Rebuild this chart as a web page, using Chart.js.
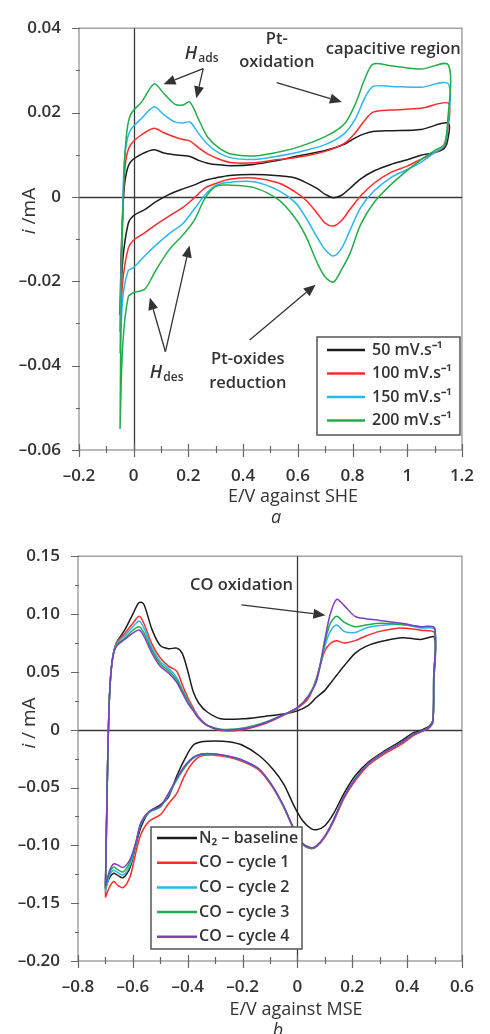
<!DOCTYPE html>
<html>
<head>
<meta charset="utf-8">
<script src="https://cdn.jsdelivr.net/npm/chart.js@4.4.1/dist/chart.umd.min.js"></script>
<style>
  body { margin: 0; background: #fff; }
  #wrap { position: relative; width: 490px; height: 1034px; overflow: hidden; }
  canvas { position: absolute; left: 0; }
  #chart-a { top: 0; }
  #chart-b { top: 528px; }
</style>
</head>
<body>
<div id="wrap">
  <canvas id="chart-a" width="490" height="528"></canvas>
  <canvas id="chart-b" width="490" height="506"></canvas>
</div>
<script>
// panel a: potential (V vs SHE) of the anodic and cathodic sweeps
const potentialFwdA = [-0.05, -0.045, -0.035, -0.025, -0.01, 0.03, 0.075, 0.11, 0.15, 0.18, 0.205, 0.24, 0.27, 0.31, 0.36, 0.44, 0.52, 0.6, 0.7, 0.77, 0.81, 0.845, 0.875, 0.94, 1.05, 1.15];
const potentialRevA = [1.148, 1.135, 1.1, 1.05, 1.0, 0.94, 0.88, 0.83, 0.79, 0.76, 0.73, 0.7, 0.67, 0.63, 0.59, 0.53, 0.44, 0.35, 0.3, 0.26, 0.22, 0.18, 0.13, 0.08, 0.04, 0.0, -0.02, -0.04, -0.05];

// current (mA) per scan rate
const rate50Fwd = [-0.028, -0.012, 0.002, 0.0062, 0.0084, 0.0102, 0.0112, 0.0104, 0.01, 0.0098, 0.0096, 0.0086, 0.008, 0.0076, 0.0074, 0.0077, 0.0086, 0.0097, 0.011, 0.0125, 0.014, 0.015, 0.0155, 0.0157, 0.016, 0.0175];
const rate50Rev = [0.0135, 0.0115, 0.0105, 0.0099, 0.0088, 0.0077, 0.0062, 0.0043, 0.002, 0.0004, -0.0002, 0.0006, 0.002, 0.0034, 0.0045, 0.005, 0.0053, 0.0051, 0.0045, 0.0039, 0.0028, 0.0019, 0.0006, -0.0012, -0.003, -0.0044, -0.0063, -0.015, -0.028];
const rate100Fwd = [-0.032, -0.015, 0.004, 0.0101, 0.0125, 0.0148, 0.0163, 0.0152, 0.0142, 0.0136, 0.0133, 0.0115, 0.0102, 0.009, 0.0081, 0.0081, 0.0088, 0.0094, 0.0108, 0.0127, 0.0152, 0.0182, 0.0201, 0.0206, 0.021, 0.0222];
const rate100Rev = [0.016, 0.012, 0.0105, 0.0089, 0.0073, 0.0058, 0.0033, 0.0003, -0.003, -0.0056, -0.0069, -0.0062, -0.0038, -0.0008, 0.0012, 0.0033, 0.0045, 0.0042, 0.0032, 0.0021, -0.0003, -0.0025, -0.0045, -0.0066, -0.0085, -0.0102, -0.0122, -0.02, -0.032];
const rate150Fwd = [-0.037, -0.015, 0.008, 0.0132, 0.016, 0.0187, 0.0214, 0.0195, 0.0178, 0.0175, 0.0178, 0.0148, 0.0125, 0.0105, 0.0092, 0.0089, 0.0096, 0.0106, 0.0124, 0.015, 0.0185, 0.0235, 0.0262, 0.0262, 0.026, 0.0268];
const rate150Rev = [0.017, 0.0122, 0.0105, 0.0082, 0.0065, 0.0046, 0.0015, -0.0025, -0.008, -0.0122, -0.014, -0.0125, -0.0095, -0.005, -0.0013, 0.0015, 0.0036, 0.0035, 0.0027, 0.0004, -0.003, -0.0063, -0.0087, -0.0115, -0.014, -0.0167, -0.0175, -0.024, -0.037];
const rate200Fwd = [-0.055, -0.02, 0.006, 0.0155, 0.0197, 0.0226, 0.0268, 0.0245, 0.022, 0.0218, 0.0225, 0.018, 0.0142, 0.0117, 0.0101, 0.0097, 0.0105, 0.0118, 0.0143, 0.0173, 0.022, 0.028, 0.0315, 0.0311, 0.0303, 0.0313];
const rate200Rev = [0.018, 0.0125, 0.011, 0.0088, 0.0063, 0.0029, -0.0012, -0.0065, -0.0135, -0.0172, -0.0202, -0.019, -0.0155, -0.0094, -0.005, -0.0007, 0.0022, 0.0028, 0.0025, -0.0004, -0.0057, -0.009, -0.0125, -0.0175, -0.0219, -0.0227, -0.0237, -0.035, -0.055];

// panel b: potential (V vs MSE)
const potentialFwdB = [-0.7, -0.692, -0.685, -0.675, -0.66, -0.63, -0.6, -0.577, -0.56, -0.53, -0.5, -0.47, -0.44, -0.42, -0.4, -0.38, -0.36, -0.33, -0.28, -0.2, -0.12, -0.05, 0.0, 0.04, 0.07, 0.1, 0.12, 0.143, 0.17, 0.21, 0.25, 0.3, 0.38, 0.45, 0.5];
const potentialRevB = [0.497, 0.494, 0.48, 0.46, 0.44, 0.42, 0.38, 0.32, 0.26, 0.21, 0.17, 0.13, 0.1, 0.07, 0.05, 0.02, -0.01, -0.05, -0.09, -0.14, -0.2, -0.25, -0.3, -0.35, -0.38, -0.41, -0.44, -0.47, -0.5, -0.54, -0.57, -0.59, -0.61, -0.635, -0.655, -0.67, -0.685, -0.7];

const baselineFwd = [-0.137, -0.03, 0.03, 0.06, 0.075, 0.086, 0.10, 0.11, 0.1085, 0.0865, 0.0727, 0.070, 0.0705, 0.066, 0.051, 0.033, 0.0231, 0.0155, 0.0095, 0.0094, 0.0115, 0.0135, 0.0163, 0.021, 0.028, 0.034, 0.040, 0.047, 0.055, 0.066, 0.072, 0.076, 0.0795, 0.078, 0.0796];
const baselineRev = [0.04, 0.008, 0.003, 0.0005, -0.0015, -0.003, -0.0095, -0.018, -0.0278, -0.04, -0.055, -0.0733, -0.083, -0.0865, -0.0855, -0.079, -0.067, -0.047, -0.034, -0.0223, -0.0135, -0.0105, -0.0097, -0.0105, -0.0135, -0.025, -0.040, -0.058, -0.065, -0.071, -0.084, -0.101, -0.119, -0.128, -0.126, -0.1242, -0.128, -0.137];
const cycle1Fwd = [-0.145, -0.03, 0.03, 0.06, 0.075, 0.083, 0.092, 0.098, 0.092, 0.074, 0.062, 0.055, 0.0505, 0.039, 0.028, 0.019, 0.011, 0.004, -0.0008, 0.0, 0.005, 0.0125, 0.0185, 0.027, 0.045, 0.068, 0.0745, 0.0768, 0.075, 0.077, 0.081, 0.085, 0.088, 0.086, 0.0837];
const cycle1Rev = [0.045, 0.007, 0.0015, -0.001, -0.003, -0.0055, -0.0125, -0.0205, -0.0305, -0.0445, -0.0595, -0.0805, -0.093, -0.1012, -0.103, -0.0995, -0.088, -0.067, -0.05, -0.035, -0.0275, -0.0238, -0.022, -0.0225, -0.028, -0.039, -0.055, -0.064, -0.0735, -0.079, -0.09, -0.107, -0.127, -0.1366, -0.1345, -0.1312, -0.136, -0.145];
const cycle2Fwd = [-0.14, -0.03, 0.03, 0.06, 0.074, 0.081, 0.089, 0.094, 0.088, 0.071, 0.059, 0.053, 0.045, 0.035, 0.0255, 0.0175, 0.01, 0.0038, 0.0002, 0.0012, 0.006, 0.013, 0.019, 0.029, 0.043, 0.072, 0.085, 0.0906, 0.085, 0.084, 0.088, 0.09, 0.091, 0.088, 0.0865];
const cycle2Rev = [0.045, 0.007, 0.002, -0.0005, -0.0025, -0.0047, -0.0112, -0.0192, -0.0292, -0.0432, -0.0582, -0.0792, -0.0922, -0.1007, -0.1022, -0.0987, -0.0872, -0.0662, -0.0492, -0.0342, -0.0266, -0.0232, -0.0212, -0.0214, -0.0247, -0.0325, -0.0435, -0.0565, -0.067, -0.0715, -0.081, -0.1, -0.117, -0.1256, -0.1235, -0.1215, -0.126, -0.14];
const cycle3Fwd = [-0.138, -0.03, 0.03, 0.06, 0.073, 0.079, 0.086, 0.089, 0.084, 0.0685, 0.057, 0.051, 0.043, 0.034, 0.025, 0.017, 0.0098, 0.0038, 0.0003, 0.0013, 0.0062, 0.013, 0.019, 0.029, 0.044, 0.075, 0.092, 0.098, 0.093, 0.089, 0.0905, 0.092, 0.091, 0.089, 0.0879];
const cycle3Rev = [0.045, 0.007, 0.002, -0.0005, -0.0025, -0.0045, -0.011, -0.019, -0.029, -0.043, -0.058, -0.079, -0.092, -0.1005, -0.1025, -0.099, -0.0875, -0.0665, -0.049, -0.034, -0.0266, -0.0232, -0.0212, -0.0212, -0.0243, -0.032, -0.043, -0.0555, -0.0665, -0.071, -0.0805, -0.099, -0.114, -0.123, -0.121, -0.1188, -0.124, -0.138];
const cycle4Fwd = [-0.135, -0.03, 0.03, 0.06, 0.072, 0.078, 0.0835, 0.0862, 0.081, 0.066, 0.0548, 0.049, 0.041, 0.032, 0.023, 0.0165, 0.010, 0.004, 0.0, 0.0005, 0.0055, 0.013, 0.019, 0.029, 0.042, 0.078, 0.10, 0.1127, 0.1075, 0.098, 0.096, 0.0945, 0.092, 0.089, 0.0879];
const cycle4Rev = [0.045, 0.007, 0.002, -0.0005, -0.0025, -0.0045, -0.011, -0.019, -0.029, -0.043, -0.058, -0.079, -0.092, -0.1005, -0.102, -0.0985, -0.087, -0.066, -0.049, -0.034, -0.0264, -0.023, -0.021, -0.021, -0.024, -0.031, -0.042, -0.055, -0.066, -0.0705, -0.080, -0.098, -0.112, -0.119, -0.117, -0.116, -0.122, -0.135];

const labelsA = ["50 mV.s⁻¹", "100 mV.s⁻¹", "150 mV.s⁻¹", "200 mV.s⁻¹"];
const labelsB = ["N₂ – baseline", "CO – cycle 1", "CO – cycle 2", "CO – cycle 3", "CO – cycle 4"];

const xTicksA = [-0.2, 0, 0.2, 0.4, 0.6, 0.8, 1, 1.2];
const yTicksA = [-0.06, -0.04, -0.02, 0, 0.02, 0.04];
const xTicksB = [-0.8, -0.6, -0.4, -0.2, 0, 0.2, 0.4, 0.6];
const yTicksB = [-0.2, -0.15, -0.1, -0.05, 0, 0.05, 0.1, 0.15];

const FONT = "'Open Sans', sans-serif";
const INK = "#333";

const tickText = (digits) => (value) => {
  const r = +value.toFixed(3);
  if (r === 0) return "0";
  const s = digits === null ? String(Math.abs(r)) : Math.abs(r).toFixed(digits);
  return (r < 0 ? "–" : "") + s;
};

const curve = (label, color, order, fwdE, fwdI, revE, revI) => ({
  label: label,
  order: order,
  data: fwdE.map((e, k) => ({ x: e, y: fwdI[k] })).concat(revE.map((e, k) => ({ x: e, y: revI[k] }))),
  borderColor: color,
  borderWidth: 1.5,
  pointRadius: 0,
  showLine: true,
  tension: 0.3,
  fill: false
});

const drawArrow = (ctx, x1, y1, x2, y2) => {
  const ang = Math.atan2(y2 - y1, x2 - x1);
  const len = 12;
  const half = 5;
  const bx = x2 - len * Math.cos(ang);
  const by = y2 - len * Math.sin(ang);
  ctx.beginPath();
  ctx.moveTo(x1, y1);
  ctx.lineTo(bx, by);
  ctx.stroke();
  ctx.beginPath();
  ctx.moveTo(x2, y2);
  ctx.lineTo(bx + half * Math.sin(ang), by - half * Math.cos(ang));
  ctx.lineTo(bx - half * Math.sin(ang), by + half * Math.cos(ang));
  ctx.closePath();
  ctx.fill();
};

const decorPlugin = {
  id: "decor",
  beforeDatasetsDraw(chart) {
    const { ctx, chartArea: area, scales } = chart;
    const x0 = Math.round(scales.x.getPixelForValue(0)) + 0.5;
    const y0 = Math.round(scales.y.getPixelForValue(0)) + 0.5;
    ctx.save();
    ctx.strokeStyle = "#8c8c8c";
    ctx.lineWidth = 1.2;
    ctx.strokeRect(area.left, area.top, area.right - area.left, area.bottom - area.top);
    ctx.strokeStyle = "#3a3a3a";
    ctx.lineWidth = 1.3;
    ctx.beginPath();
    ctx.moveTo(x0, area.top);
    ctx.lineTo(x0, area.bottom);
    ctx.moveTo(area.left, y0);
    ctx.lineTo(area.right, y0);
    ctx.stroke();
    ctx.restore();
  },
  afterDatasetsDraw(chart, args, opts) {
    const { ctx, chartArea: area, scales } = chart;
    const x = scales.x;
    const y = scales.y;
    ctx.save();

    // major and minor tick marks
    ctx.strokeStyle = "#666";
    ctx.lineWidth = 1.2;
    ctx.beginPath();
    const marks = (scale, step, draw) => {
      const majors = scale.ticks.map((t) => t.value);
      const count = Math.round((scale.max - scale.min) / step);
      for (let k = 0; k <= count; k++) {
        const v = scale.min + k * step;
        const major = majors.some((m) => Math.abs(m - v) < 1e-6);
        draw(Math.round(scale.getPixelForValue(v)) + 0.5, major);
      }
    };
    marks(x, opts.minorX, (px, major) => {
      ctx.moveTo(px, area.bottom - (major ? 6 : 4));
      ctx.lineTo(px, area.bottom + (major ? 7 : 3));
    });
    marks(y, opts.minorY, (py, major) => {
      ctx.moveTo(area.left - (major ? 7 : 3), py);
      ctx.lineTo(area.left + 1, py);
    });
    ctx.stroke();

    // annotations
    ctx.fillStyle = INK;
    ctx.strokeStyle = INK;
    ctx.lineWidth = 1.3;
    opts.arrows.forEach((a) => {
      drawArrow(ctx, x.getPixelForValue(a.from[0]), y.getPixelForValue(a.from[1]),
        x.getPixelForValue(a.to[0]), y.getPixelForValue(a.to[1]));
    });
    ctx.font = "600 16.5px " + FONT;
    ctx.textAlign = "center";
    ctx.textBaseline = "middle";
    opts.texts.forEach((t) => {
      ctx.fillText(t.text, x.getPixelForValue(t.x), y.getPixelForValue(t.y));
    });
    ctx.textAlign = "left";
    ctx.textBaseline = "alphabetic";
    opts.hLabels.forEach((h) => {
      const px = x.getPixelForValue(h.x);
      const py = y.getPixelForValue(h.y);
      ctx.font = "italic 600 18px " + FONT;
      ctx.fillText("H", px, py);
      const w = ctx.measureText("H").width;
      ctx.font = "600 12px " + FONT;
      ctx.fillText(h.sub, px + w + 1, py + 3);
    });

    // legend box
    const lg = opts.legend;
    ctx.fillStyle = "#fff";
    ctx.fillRect(lg.left, lg.top, lg.width, lg.height);
    ctx.strokeStyle = "#555";
    ctx.lineWidth = 1.5;
    ctx.strokeRect(lg.left, lg.top, lg.width, lg.height);
    ctx.font = "600 16px " + FONT;
    ctx.textBaseline = "middle";
    chart.data.datasets.forEach((ds, k) => {
      const cy = lg.top + lg.firstRow + k * lg.rowGap;
      ctx.strokeStyle = ds.borderColor;
      ctx.lineWidth = 2.5;
      ctx.beginPath();
      ctx.moveTo(lg.left + lg.lineStart, cy);
      ctx.lineTo(lg.left + lg.lineEnd, cy);
      ctx.stroke();
      ctx.fillStyle = INK;
      ctx.fillText(ds.label, lg.left + lg.textStart, cy);
    });

    // axis titles and panel letter
    const yt = opts.yTitle;
    ctx.save();
    ctx.translate(yt.x, yt.y);
    ctx.rotate(-Math.PI / 2);
    ctx.fillStyle = INK;
    ctx.textBaseline = "middle";
    ctx.font = "italic 19px " + FONT;
    const wi = ctx.measureText("i").width;
    ctx.font = "19px " + FONT;
    const wr = ctx.measureText(yt.rest).width;
    ctx.font = "italic 19px " + FONT;
    ctx.fillText("i", -(wi + wr) / 2, 0);
    ctx.font = "19px " + FONT;
    ctx.fillText(yt.rest, -(wi + wr) / 2 + wi, 0);
    ctx.restore();

    ctx.fillStyle = INK;
    ctx.textAlign = "center";
    ctx.textBaseline = "middle";
    ctx.font = "18px " + FONT;
    ctx.fillText(opts.xTitle.text, opts.xTitle.x, opts.xTitle.y);
    ctx.font = "italic 18px " + FONT;
    ctx.textBaseline = "alphabetic";
    ctx.fillText(opts.letter.text, opts.letter.x, opts.letter.y);
    ctx.restore();
  }
};

const makeOptions = (cfg) => ({
  responsive: false,
  animation: false,
  layout: { padding: cfg.padding, autoPadding: false },
  plugins: {
    legend: { display: false },
    tooltip: { enabled: false },
    decor: cfg.decor
  },
  scales: {
    x: {
      type: "linear",
      min: cfg.xMin,
      max: cfg.xMax,
      afterBuildTicks: (s) => { s.ticks = cfg.xTicks.map((v) => ({ value: v })); },
      afterFit: (s) => { s.height = cfg.xHeight; },
      ticks: { callback: tickText(cfg.xDigits), autoSkip: false, maxRotation: 0, padding: 16, color: INK, font: { family: FONT, size: 17, weight: "600" } },
      grid: { display: false, drawTicks: false },
      border: { display: false }
    },
    y: {
      type: "linear",
      min: cfg.yMin,
      max: cfg.yMax,
      afterBuildTicks: (s) => { s.ticks = cfg.yTicks.map((v) => ({ value: v })); },
      afterFit: (s) => { s.width = cfg.yWidth; },
      ticks: { callback: tickText(cfg.yDigits), autoSkip: false, padding: 18, color: INK, font: { family: FONT, size: 17, weight: "600" } },
      grid: { display: false, drawTicks: false },
      border: { display: false }
    }
  }
});

const build = () => {
  new Chart(document.getElementById("chart-a"), {
    type: "scatter",
    data: {
      datasets: [
        curve(labelsA[0], "#1c1c1c", 4, potentialFwdA, rate50Fwd, potentialRevA, rate50Rev),
        curve(labelsA[1], "#ff2b2b", 3, potentialFwdA, rate100Fwd, potentialRevA, rate100Rev),
        curve(labelsA[2], "#2cb6ef", 2, potentialFwdA, rate150Fwd, potentialRevA, rate150Rev),
        curve(labelsA[3], "#22ad4b", 1, potentialFwdA, rate200Fwd, potentialRevA, rate200Rev)
      ]
    },
    options: makeOptions({
      padding: { left: 0, top: 22, right: 16, bottom: 0 },
      xMin: -0.2, xMax: 1.2, yMin: -0.06, yMax: 0.04,
      xTicks: xTicksA, yTicks: yTicksA, xDigits: null, yDigits: null,
      xHeight: 78, yWidth: 79,
      decor: {
        minorX: 0.1,
        minorY: 0.01,
        texts: [
          { text: "Pt-", x: 0.523, y: 0.0374 },
          { text: "oxidation", x: 0.523, y: 0.0318 },
          { text: "capacitive region", x: 0.949, y: 0.0351 },
          { text: "Pt-oxides", x: 0.417, y: -0.0386 },
          { text: "reduction", x: 0.417, y: -0.0442 }
        ],
        hLabels: [
          { sub: "ads", x: 0.187, y: 0.0327 },
          { sub: "des", x: 0.059, y: -0.0430 }
        ],
        arrows: [
          { from: [0.254, 0.0304], to: [0.109, 0.0267] },
          { from: [0.254, 0.0304], to: [0.229, 0.0234] },
          { from: [0.523, 0.0271], to: [0.761, 0.0225] },
          { from: [0.424, -0.0339], to: [0.665, -0.0208] },
          { from: [0.116, -0.0367], to: [0.059, -0.0239] },
          { from: [0.116, -0.0367], to: [0.204, -0.0115] }
        ],
        legend: { left: 317, top: 337, width: 143, height: 98, firstRow: 13, rowGap: 23.5, lineStart: 10, lineEnd: 48, textStart: 55 },
        yTitle: { rest: " /mA", x: 30, y: 211 },
        xTitle: { text: "E/V against SHE", x: 293, y: 497 },
        letter: { text: "a", x: 276, y: 523 }
      }
    }),
    plugins: [decorPlugin]
  });

  new Chart(document.getElementById("chart-b"), {
    type: "scatter",
    data: {
      datasets: [
        curve(labelsB[0], "#1c1c1c", 5, potentialFwdB, baselineFwd, potentialRevB, baselineRev),
        curve(labelsB[1], "#ff2b2b", 4, potentialFwdB, cycle1Fwd, potentialRevB, cycle1Rev),
        curve(labelsB[2], "#2cb6ef", 3, potentialFwdB, cycle2Fwd, potentialRevB, cycle2Rev),
        curve(labelsB[3], "#22ad4b", 2, potentialFwdB, cycle3Fwd, potentialRevB, cycle3Rev),
        curve(labelsB[4], "#7d3fc4", 1, potentialFwdB, cycle4Fwd, potentialRevB, cycle4Rev)
      ]
    },
    options: makeOptions({
      padding: { left: 0, top: 9, right: 13, bottom: 0 },
      xMin: -0.8, xMax: 0.6, yMin: -0.2, yMax: 0.15,
      xTicks: xTicksB, yTicks: yTicksB, xDigits: 1, yDigits: 2,
      xHeight: 73, yWidth: 78,
      decor: {
        minorX: 0.1,
        minorY: 0.025,
        texts: [{ text: "CO oxidation", x: -0.204, y: 0.125 }],
        hLabels: [],
        arrows: [{ from: [-0.204, 0.108], to: [0.102, 0.099] }],
        legend: { left: 151, top: 299, width: 151, height: 122, firstRow: 11, rowGap: 24.7, lineStart: 6, lineEnd: 46, textStart: 48 },
        yTitle: { rest: " / mA", x: 30, y: 195 },
        xTitle: { text: "E/V against MSE", x: 296, y: 482 },
        letter: { text: "b", x: 278, y: 508 }
      }
    }),
    plugins: [decorPlugin]
  });
};

if (document.fonts && document.fonts.load) {
  Promise.all([
    document.fonts.load("600 17px 'Open Sans'"),
    document.fonts.load("italic 600 18px 'Open Sans'"),
    document.fonts.load("18px 'Open Sans'")
  ]).then(build, build);
} else {
  build();
}
</script>
</body>
</html>
